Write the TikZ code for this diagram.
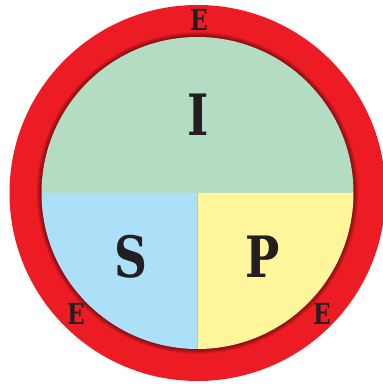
\documentclass[tikz,border=0pt]{standalone}
\usepackage{fontspec}
\newfontfamily\slab{DejaVu Serif}
\definecolor{ringred}{HTML}{ED1C24}
\definecolor{igreen}{HTML}{B3DCC2}
\definecolor{sblue}{HTML}{ABE0F8}
\definecolor{pyellow}{HTML}{FFF59B}
\definecolor{ink}{HTML}{231F20}
\newcommand{\narrow}[1]{\scalebox{0.8}[1]{#1}}
\tikzset{
  big/.style={inner sep=0pt, text=ink, font=\slab\bfseries\fontsize{57}{57}\selectfont},
  small/.style={inner sep=0pt, text=ink, font=\slab\bfseries\fontsize{29}{29}\selectfont}
}
\begin{document}
\begin{tikzpicture}[x=1pt,y=1pt]
\useasboundingbox (0,0) rectangle (383,384);
\coordinate (c) at (197.5,191);
% red ring
\fill[ringred] (c) circle (188);
% inner shadow
\foreach \w in {1,2,...,7}{
  \draw[black, opacity=0.07, line width=\w*1.4pt] (c) circle (156);
}
% inner disc quadrants
\fill[igreen] ([xshift=-156]c) arc[start angle=180, end angle=0, radius=156] -- cycle;
\fill[sblue] (c) -- ([xshift=-156]c) arc[start angle=180, end angle=270, radius=156] -- cycle;
\fill[pyellow] (c) -- ([yshift=-156]c) arc[start angle=270, end angle=360, radius=156] -- cycle;
% labels
\node[big] (I) at (198,269) {\narrow{I}};
\node[big] (S) at (131,127) {\narrow{S}};
\node[big] (P) at (263,127) {\narrow{P}};
\node[small] (Etop) at (199,364) {\narrow{E}};
\node[small] (Eleft) at (76,70) {\narrow{E}};
\node[small] (Eright) at (322,70) {\narrow{E}};
\end{tikzpicture}
\end{document}
